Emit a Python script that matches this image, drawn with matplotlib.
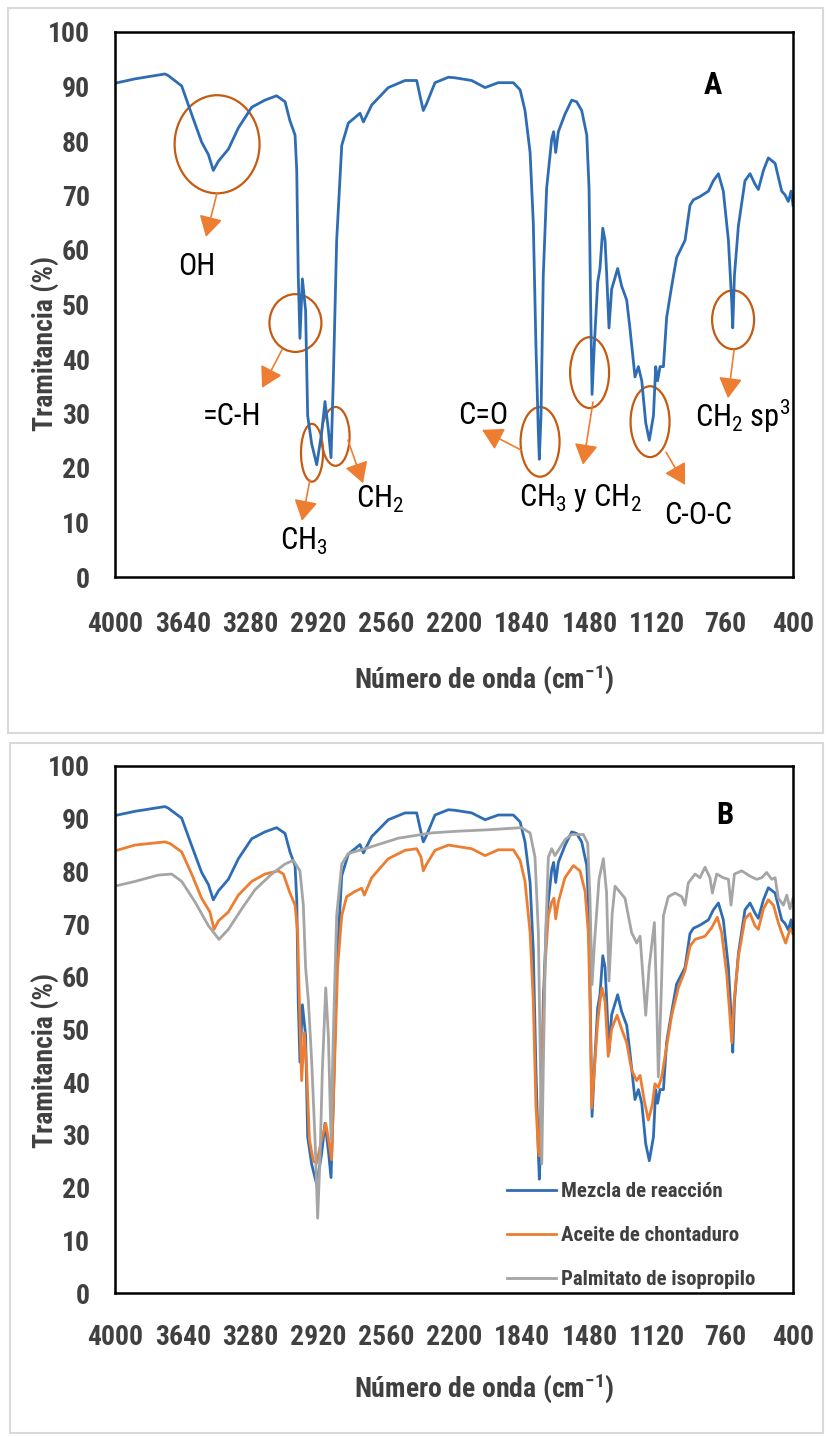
import numpy as np
import matplotlib
matplotlib.use('Agg')
import matplotlib.pyplot as plt
from matplotlib.patches import Ellipse, Rectangle
from matplotlib import font_manager


def peso(w):
    return w if isinstance(w, int) else font_manager.weight_dict.get(w, 400)


# buscar una fuente estrecha (tipo Arial Narrow) con normal y negrita
familias = {}
for f in font_manager.fontManager.ttflist:
    if ('Narrow' in f.name or 'Condensed' in f.name) and 'Mono' not in f.name \
            and f.style == 'normal':
        familias.setdefault(f.name, set()).add(peso(f.weight))

preferidas = ['Liberation Sans Narrow', 'Arial Narrow', 'Roboto Condensed',
              'Noto Sans Condensed', 'Open Sans Condensed', 'DejaVu Sans Condensed']


def orden(n):
    return preferidas.index(n) if n in preferidas else len(preferidas)


ambas = sorted([n for n, ws in familias.items() if 400 in ws and 700 in ws], key=orden)
regs = sorted([n for n, ws in familias.items() if 400 in ws], key=orden)
negs = sorted([n for n, ws in familias.items() if any(w >= 650 for w in ws)], key=orden)
if ambas:
    REG = NEG = ambas[0]
else:
    REG = regs[0] if regs else 'Liberation Sans'
    NEG = negs[0] if negs else 'Liberation Sans'
ESTRECHA_N = NEG != 'Liberation Sans'

plt.rcParams['font.family'] = [REG, 'DejaVu Sans']
plt.rcParams['mathtext.fontset'] = 'custom'
plt.rcParams['mathtext.rm'] = REG

fam_neg = [NEG, 'DejaVu Sans']
if ESTRECHA_N:
    fs_tick, fs_leg, fs_lab, fs_letra = 20, 15, 20, 22
else:
    fs_tick, fs_leg, fs_lab, fs_letra = 17.5, 13, 16.5, 20
fs_ann = 22

# Espectro FTIR - Mezcla de reacción
wn_mezcla = [4000, 3894, 3735, 3717, 3646, 3593, 3540, 3504, 3478, 3451, 3398, 3345,
             3274, 3204, 3142, 3097, 3071, 3044, 3035, 3027, 3018, 3005, 2988, 2977,
             2956, 2929, 2903, 2885, 2867, 2853, 2841, 2823, 2796, 2761, 2726, 2699,
             2681, 2637, 2549, 2460, 2398, 2380, 2363, 2345, 2301, 2230, 2195, 2106,
             2035, 1965, 1885, 1849, 1823, 1796, 1779, 1765, 1752, 1747, 1738, 1726,
             1708, 1681, 1671, 1660, 1646, 1611, 1575, 1549, 1522, 1495, 1483, 1474,
             1467, 1455, 1437, 1425, 1410, 1398, 1389, 1377, 1363, 1331, 1310, 1283,
             1266, 1239, 1221, 1203, 1182, 1163, 1141, 1129, 1119, 1106, 1088, 1071,
             1044, 1018, 973, 947, 929, 894, 849, 823, 796, 770, 743, 725, 720, 711,
             690, 655, 628, 602, 584, 557, 531, 495, 478, 460, 442, 425, 410, 400]
t_mezcla = [90.6, 91.4, 92.3, 92.0, 90.1, 84.9, 79.8, 77.5, 74.6, 76.3, 78.5, 82.4,
            86.2, 87.5, 88.3, 87.2, 83.7, 81.1, 74.6, 55.3, 43.8, 54.7, 48.9, 29.6,
            24.5, 20.6, 26.4, 32.2, 27.0, 21.9, 36.0, 61.8, 79.2, 83.3, 84.3, 85.1,
            83.5, 86.6, 89.8, 91.1, 91.1, 88.2, 85.6, 86.9, 90.7, 91.7, 91.6, 91.1,
            89.8, 90.7, 90.7, 89.4, 85.6, 77.9, 65.0, 42.5, 26.4, 21.6, 29.6, 55.3,
            71.4, 80.4, 81.7, 77.9, 81.7, 84.9, 87.5, 87.2, 85.6, 81.1, 71.4, 48.9,
            33.5, 42.5, 54.1, 56.6, 64.0, 61.8, 55.3, 45.7, 52.8, 56.6, 53.4, 50.8,
            45.7, 36.7, 38.6, 36.0, 28.3, 25.1, 29.6, 38.6, 36.0, 38.6, 38.6, 47.6,
            53.4, 58.6, 61.8, 68.2, 69.2, 69.8, 70.8, 72.7, 74.0, 70.8, 61.8, 50.2, 45.7, 55.3,
            64.4, 72.7, 74.0, 72.1, 71.1, 74.6, 76.9, 75.9, 73.4, 70.8, 70.1, 68.9, 70.8, 68.2]

# Aceite de chontaduro
wn_aceite = [4000, 3894, 3735, 3708, 3646, 3593, 3540, 3496, 3474, 3451, 3398, 3345,
             3274, 3204, 3133, 3106, 3071, 3044, 3030, 3021, 3009, 2995, 2982, 2968,
             2947, 2929, 2906, 2881, 2864, 2850, 2835, 2818, 2796, 2770, 2726, 2690,
             2676, 2637, 2549, 2460, 2398, 2375, 2363, 2345, 2301, 2230, 2195, 2106,
             2035, 1965, 1885, 1849, 1823, 1796, 1779, 1765, 1752, 1747, 1734, 1717,
             1699, 1681, 1669, 1660, 1646, 1611, 1566, 1531, 1504, 1487, 1478, 1469,
             1455, 1437, 1425, 1414, 1398, 1381, 1363, 1334, 1310, 1283, 1257, 1230,
             1212, 1189, 1168, 1147, 1133, 1115, 1097, 1071, 1044, 1009, 973, 947,
             920, 867, 832, 802, 779, 752, 734, 725, 713, 690, 655, 628, 602, 584,
             557, 531, 504, 478, 460, 439, 416, 400]
t_aceite = [83.9, 85.0, 85.6, 85.3, 83.7, 79.5, 74.9, 72.3, 69.0, 70.6, 72.3, 75.5,
            78.1, 79.5, 80.1, 79.5, 75.9, 73.6, 68.4, 55.3, 40.3, 49.4, 42.3, 29.2,
            25.0, 24.7, 28.6, 32.2, 28.6, 25.3, 42.3, 61.8, 71.6, 75.2, 76.2, 76.8,
            75.5, 78.8, 82.4, 84.0, 84.3, 82.7, 80.1, 81.4, 84.0, 85.0, 84.8, 84.3,
            83.0, 84.1, 84.1, 82.1, 78.1, 68.4, 55.3, 35.7, 27.0, 26.0, 42.3, 61.8,
            71.6, 74.2, 74.9, 71.0, 74.2, 78.8, 81.1, 80.1, 76.2, 68.4, 55.3, 35.1,
            42.3, 51.4, 55.3, 57.9, 55.3, 44.9, 50.1, 52.7, 50.1, 47.5, 42.3, 40.3,
            41.3, 36.4, 32.8, 35.7, 39.7, 39.0, 41.0, 46.8, 52.7, 57.9, 61.2, 65.8,
            67.1, 67.7, 69.3, 71.3, 68.4, 60.5, 52.1, 47.5, 55.3, 63.8, 71.0, 72.0, 69.7, 69.0,
            72.9, 74.6, 73.6, 70.3, 68.4, 66.4, 69.0, 68.4]

# Palmitato de isopropilo
wn_palm = [4000, 3894, 3770, 3699, 3646, 3575, 3504, 3448, 3398, 3327, 3257, 3168,
           3097, 3053, 3018, 3000, 2988, 2973, 2956, 2938, 2924, 2911, 2899, 2881,
           2867, 2853, 2841, 2823, 2796, 2761, 2673, 2496, 2319, 2195, 2018, 1841,
           1796, 1770, 1752, 1741, 1734, 1726, 1713, 1699, 1681, 1664, 1646, 1611,
           1575, 1513, 1490, 1478, 1467, 1455, 1430, 1407, 1390, 1377, 1360, 1345,
           1292, 1257, 1230, 1212, 1182, 1164, 1136, 1124, 1115, 1101, 1088, 1062,
           1026, 991, 973, 956, 920, 894, 867, 841, 828, 805, 770, 743, 729, 711,
           672, 628, 593, 566, 540, 513, 495, 478, 451, 433, 416, 400]
t_palm = [77.2, 78.1, 79.3, 79.5, 78.1, 74.2, 69.7, 67.1, 69.0, 72.9, 76.5, 79.5,
          81.4, 82.1, 80.1, 73.6, 61.8, 55.3, 44.2, 29.2, 14.2, 26.0, 42.3, 57.9,
          48.8, 29.2, 48.8, 71.6, 81.4, 83.4, 84.3, 86.3, 87.3, 87.6, 87.9, 88.3,
          87.3, 82.7, 68.4, 42.3, 24.5, 42.3, 68.4, 82.7, 84.3, 83.0, 84.0, 86.0,
          87.0, 87.0, 85.3, 74.9, 58.5, 66.0, 78.5, 82.4, 76.0, 59.2, 72.0, 77.2,
          74.9, 68.4, 66.4, 67.7, 52.7, 61.8, 70.3, 55.3, 41.0, 55.3, 71.6, 75.2,
          75.9, 75.2, 73.6, 77.8, 79.5, 78.8, 80.8, 78.8, 75.9, 79.5, 78.8, 78.5, 73.6, 79.5,
          80.1, 79.1, 78.5, 78.8, 79.8, 78.5, 78.8, 74.9, 73.6, 75.5, 72.9, 74.9]

series_nombres = ['Mezcla de reacción', 'Aceite de chontaduro', 'Palmitato de isopropilo']
colores = ['#2E6DB4', '#ED7D31', '#A5A5A5']

x_ticks = list(range(4000, 399, -360))
y_ticks = list(range(0, 101, 10))

# anotaciones panel A: texto, elipse (centro, ancho, alto), flecha (inicio, punta), posicion texto
anotaciones = [
    ('OH', (3458, 79.4), 451, 18.0, (3458, 70.5), (3517, 62.4), (3565, 56.9)),
    ('=C-H', (3042, 46.6), 276, 10.6, (3113, 41.7), (3219, 34.7), (3379, 29.4)),
    (r'$\mathregular{CH_3}$', (2954, 22.8), 117, 10.6, (2965, 17.8), (3007, 10.3), (3000, 6.6)),
    (r'$\mathregular{CH_2}$', (2829, 25.8), 149, 10.8, (2763, 25.1), (2683, 17.2), (2590, 14.3)),
    ('C=O', (1743, 24.8), 207, 12.8, (1844, 23.3), (2051, 27.0), (2046, 29.7)),
    (r'$\mathregular{CH_3}$ y $\mathregular{CH_2}$', (1480, 37.5), 207, 13.0, (1462, 32.1), (1515, 20.6), (1531, 14.5)),
    ('C-O-C', (1159, 28.5), 207, 13.0, (1074, 22.9), (973, 16.9), (904, 11.2)),
    (r'$\mathregular{CH_2}$ sp$\mathregular{^3}$', (718, 47.2), 223, 10.8, (713, 41.7), (745, 32.8), (668, 29.4)),
]

W, H = 827, 1437
fig = plt.figure(figsize=(W / 100, H / 100), dpi=100)

# marcos grises de cada panel
for (x0, y0, x1, y1) in [(8, 8, 823, 733), (10, 743, 823, 1433)]:
    fig.add_artist(Rectangle((x0 / W, 1 - y1 / H), (x1 - x0) / W, (y1 - y0) / H,
                             transform=fig.transFigure, fill=False,
                             edgecolor='#D9D9D9', lw=1.5))

axA = fig.add_axes([115 / W, 1 - 577 / H, 678 / W, 545 / H])
axB = fig.add_axes([115 / W, 1 - 1293 / H, 678 / W, 527 / H])

gris = '#404040'


def estilo(ax, pad_x):
    ax.set_xlim(4000, 400)
    ax.set_ylim(0, 100)
    ax.set_xticks(x_ticks)
    ax.set_yticks(y_ticks)
    ax.tick_params(axis='both', length=0, labelsize=fs_tick, labelcolor=gris)
    ax.tick_params(axis='x', pad=pad_x)
    ax.tick_params(axis='y', pad=18)
    for lab in ax.get_xticklabels() + ax.get_yticklabels():
        lab.set_fontfamily(fam_neg)
        lab.set_fontweight('bold')
    for s in ax.spines.values():
        s.set_linewidth(1.8)
        s.set_color('black')


estilo(axA, 24.5)
estilo(axB, 22)

axA.plot(wn_mezcla, t_mezcla, color=colores[0], lw=2.0)

for nombre, wn, t, c in zip(series_nombres, [wn_mezcla, wn_aceite, wn_palm],
                            [t_mezcla, t_aceite, t_palm], colores):
    axB.plot(wn, t, color=c, lw=2.0, label=nombre)

for texto, centro, ancho, alto, ini, punta, pos in anotaciones:
    axA.add_patch(Ellipse(centro, ancho, alto, fill=False, edgecolor='#C55A11', lw=1.6))
    axA.annotate('', xy=punta, xytext=ini,
                 arrowprops=dict(arrowstyle='-|>,head_length=0.7,head_width=0.4',
                                 color='#ED7D31', lw=1.2, shrinkA=0, shrinkB=0,
                                 mutation_scale=18))
    axA.text(pos[0], pos[1], texto, ha='center', va='center', fontsize=fs_ann, color='black')

axA.text(0.882, 0.903, 'A', transform=axA.transAxes, ha='center', va='center',
         fontsize=fs_letra, fontweight='bold', family=fam_neg, color='black')
axB.text(0.900, 0.907, 'B', transform=axB.transAxes, ha='center', va='center',
         fontsize=fs_letra, fontweight='bold', family=fam_neg, color='black')

leg = axB.legend(loc='lower left', bbox_to_anchor=(0.563, -0.012), frameon=False,
                 borderpad=0, handlelength=2.35, handletextpad=0.25,
                 labelspacing=1.2, prop={'size': fs_leg, 'weight': 'bold', 'family': fam_neg})
for txt in leg.get_texts():
    txt.set_color(gris)

xlabel = 'Número de onda (cm$\\mathregular{^{-1}}$)'
for yy in (679, 1388):
    fig.text(484 / W, 1 - yy / H, xlabel, ha='center', va='center', fontsize=fs_lab,
             fontweight='bold', family=fam_neg, color=gris)
for yy in (343, 1060):
    fig.text(45 / W, 1 - yy / H, 'Tramitancia (%)', ha='center', va='center', rotation=90,
             fontsize=fs_lab, fontweight='bold', family=fam_neg, color=gris)

fig.savefig('out.png', dpi=100, facecolor='white')
